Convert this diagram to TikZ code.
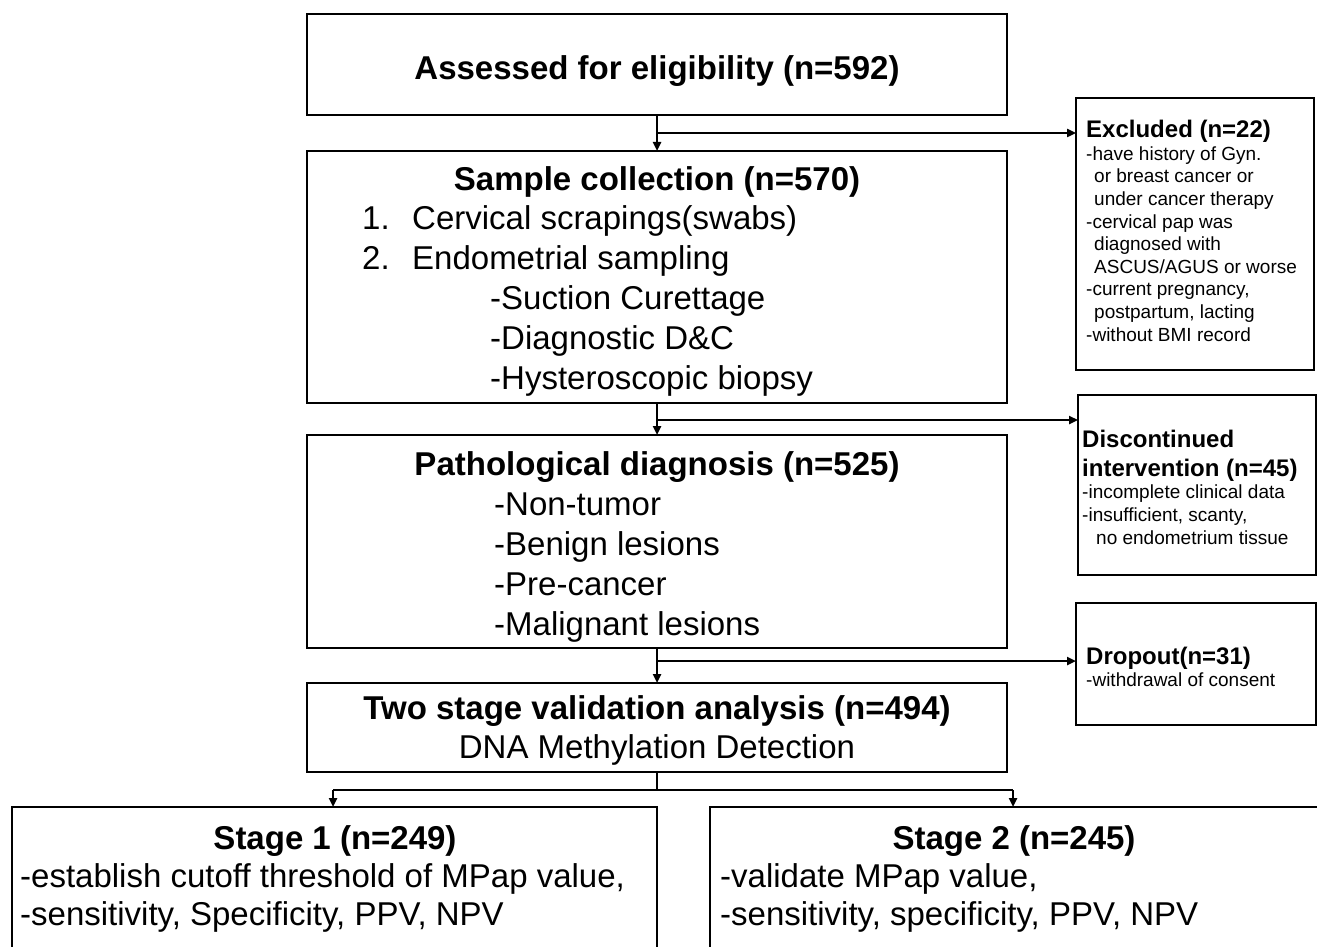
\documentclass[tikz,border=0pt]{standalone}
\usepackage{fontspec}
\setmainfont{Liberation Sans}
\usetikzlibrary{arrows.meta}
\tikzset{
  box/.style={draw, line width=2.6pt, anchor=north west, inner sep=0pt, outer sep=0pt},
  conn/.style={line width=2.4pt},
  arr/.style={conn, -{Triangle[length=9pt,width=8pt]}},
  bt/.style={font=\bfseries\fontsize{33}{40}\selectfont, anchor=base, inner sep=0pt},
  rt/.style={font=\fontsize{33}{40}\selectfont, anchor=base west, inner sep=0pt},
  rc/.style={font=\fontsize{33}{40}\selectfont, anchor=base, inner sep=0pt},
  st/.style={font=\bfseries\fontsize{24}{29}\selectfont, anchor=base west, inner sep=0pt, align=left},
  ss/.style={font=\fontsize{19}{22.6}\selectfont, anchor=base west, inner sep=0pt, align=left},
}
\begin{document}
\begin{tikzpicture}[x=1pt,y=-1pt]
\useasboundingbox (0,0) rectangle (1317,947);
\clip (0,0) rectangle (1317,947);
% main boxes
\node[box, minimum width=700pt, minimum height=101pt] (assess) at (307,14) {};
\node[box, minimum width=700pt, minimum height=252pt] (sample) at (307,151) {};
\node[box, minimum width=700pt, minimum height=213pt] (patho) at (307,435) {};
\node[box, minimum width=700pt, minimum height=89pt] (twostage) at (307,683) {};
\node[box, minimum width=645pt, minimum height=200pt] (stage1) at (12,807) {};
\node[box, minimum width=620pt, minimum height=200pt] (stage2) at (710,807) {};
% side boxes
\node[box, minimum width=238pt, minimum height=272pt] (excl) at (1076,98) {};
\node[box, minimum width=238pt, minimum height=180pt] (disc) at (1078,395) {};
\node[box, minimum width=240pt, minimum height=122pt] (drop) at (1076,603) {};
% texts main
\node[bt] (tA) at (657,80) {Assessed for eligibility (n=592)};
\node[bt] (tS) at (657,190) {Sample collection (n=570)};
\node[rt] (tS1n) at (362,229) {1.};
\node[rt] (tS1) at (412,229) {Cervical scrapings(swabs)};
\node[rt] (tS2n) at (362,269) {2.};
\node[rt] (tS2) at (412,269) {Endometrial sampling};
\node[rt] (tS3) at (490,309) {-Suction Curettage};
\node[rt] (tS4) at (490,349) {-Diagnostic D\&C};
\node[rt] (tS5) at (490,389) {-Hysteroscopic biopsy};
\node[bt] (tP) at (657,475) {Pathological diagnosis (n=525)};
\node[rt] (tP1) at (494,515) {-Non-tumor};
\node[rt] (tP2) at (494,555) {-Benign lesions};
\node[rt] (tP3) at (494,595) {-Pre-cancer};
\node[rt] (tP4) at (494,635) {-Malignant lesions};
\node[bt] (tT) at (657,719) {Two stage validation analysis (n=494)};
\node[rc] (tT1) at (657,758) {DNA Methylation Detection};
\node[bt] (tX1) at (335,849) {Stage 1 (n=249)};
\node[rt] (tX11) at (20,887) {-establish cutoff threshold of MPap value,};
\node[rt] (tX12) at (20,925) {-sensitivity, Specificity, PPV, NPV};
\node[bt] (tX2) at (1014,849) {Stage 2 (n=245)};
\node[rt] (tX21) at (720,887) {-validate MPap value,};
\node[rt] (tX22) at (720,925) {-sensitivity, specificity, PPV, NPV};
% side texts (base anchor = last line)
\node[st] (tE) at (1086,138) {Excluded (n=22)};
\node[ss] (tE1) at (1086,341) {-have history of Gyn.\\\hspace*{8pt}or breast cancer or\\\hspace*{8pt}under cancer therapy\\-cervical pap was\\\hspace*{8pt}diagnosed with\\\hspace*{8pt}ASCUS/AGUS or worse\\-current pregnancy,\\\hspace*{8pt}postpartum, lacting\\-without BMI record};
\node[st] (tD) at (1082,476) {Discontinued\\intervention (n=45)};
\node[ss] (tD1) at (1082,544) {-incomplete clinical data\\-insufficient, scanty,\\\hspace*{14pt}no endometrium tissue};
\node[st] (tO) at (1086,664) {Dropout(n=31)};
\node[ss] (tO1) at (1086,686) {-withdrawal of consent};
% connectors
\draw[arr] (assess.south) -- (sample.north);
\coordinate (b1) at (657,133);
\draw[arr] (b1) -- (excl.west |- b1);
\draw[arr] (sample.south) -- (patho.north);
\coordinate (b2) at (657,420);
\draw[arr] (b2) -- (disc.west |- b2);
\draw[arr] (patho.south) -- (twostage.north);
\coordinate (b3) at (657,661);
\draw[arr] (b3) -- (drop.west |- b3);
\coordinate (b4) at (657,790);
\coordinate (b4l) at (333,790);
\coordinate (b4r) at (1013,790);
\draw[conn] (twostage.south) -- (b4);
\draw[conn] (b4l) -- (b4r);
\draw[arr] (b4l) -- (b4l |- stage1.north);
\draw[arr] (b4r) -- (b4r |- stage2.north);
\end{tikzpicture}
\end{document}
